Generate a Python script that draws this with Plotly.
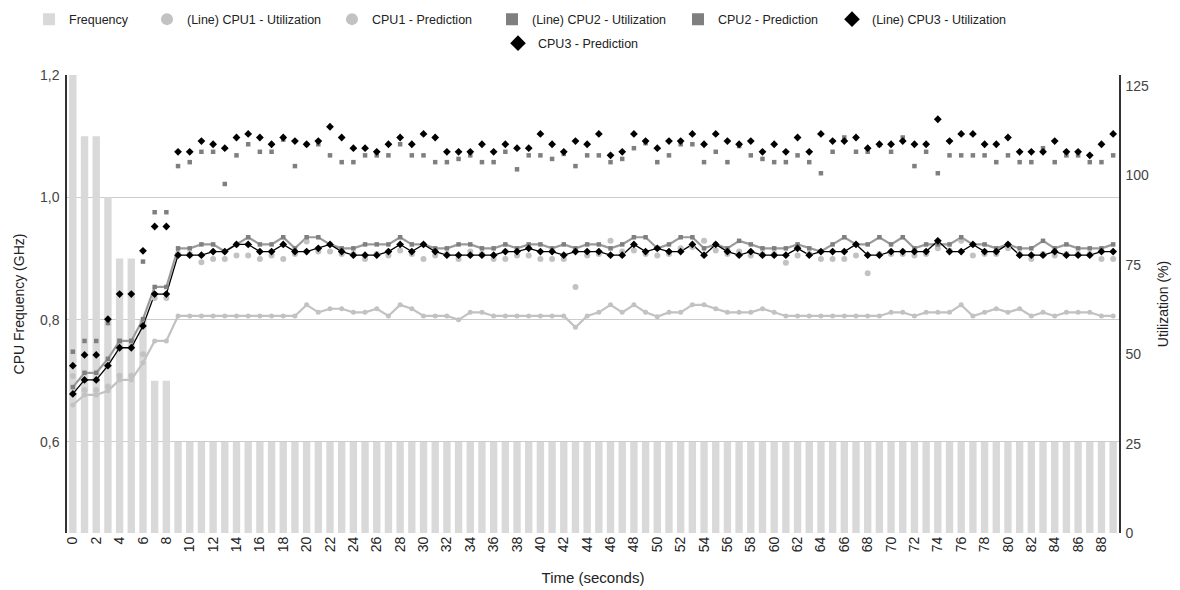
import plotly.graph_objects as go

time_s = list(range(90))
x_ticks = list(range(0, 89, 2))

freq_ghz = [1.2, 1.1, 1.1, 1.0, 0.9, 0.9, 0.8, 0.7, 0.7,
            0.6, 0.6, 0.6, 0.6, 0.6, 0.6, 0.6, 0.6, 0.6, 0.6,
            0.6, 0.6, 0.6, 0.6, 0.6, 0.6, 0.6, 0.6, 0.6, 0.6,
            0.6, 0.6, 0.6, 0.6, 0.6, 0.6, 0.6, 0.6, 0.6, 0.6,
            0.6, 0.6, 0.6, 0.6, 0.6, 0.6, 0.6, 0.6, 0.6, 0.6,
            0.6, 0.6, 0.6, 0.6, 0.6, 0.6, 0.6, 0.6, 0.6, 0.6,
            0.6, 0.6, 0.6, 0.6, 0.6, 0.6, 0.6, 0.6, 0.6, 0.6,
            0.6, 0.6, 0.6, 0.6, 0.6, 0.6, 0.6, 0.6, 0.6, 0.6,
            0.6, 0.6, 0.6, 0.6, 0.6, 0.6, 0.6, 0.6, 0.6, 0.6,
            0.6]

cpu1_util = [35.8, 38.6, 38.6, 39.8, 42.8, 42.8, 47.6, 53.7, 53.7,
             60.7, 60.7, 60.7, 60.7, 60.7, 60.7, 60.7, 60.7, 60.7, 60.7, 60.7,
             63.8, 61.7, 62.7, 62.7, 61.7, 61.7, 62.7, 60.7, 63.8, 62.7,
             60.7, 60.7, 60.7, 59.6, 61.7, 61.7, 60.7, 60.7, 60.7, 60.7,
             60.7, 60.7, 60.7, 57.5, 60.7, 61.7, 63.8, 61.7, 63.8, 61.7,
             60.5, 61.7, 61.7, 63.8, 63.8, 62.7, 61.7, 61.7, 61.7, 62.7,
             61.7, 60.7, 60.7, 60.7, 60.7, 60.7, 60.7, 60.7, 60.7, 60.7,
             61.7, 61.7, 60.7, 61.7, 61.7, 61.7, 63.8, 60.7, 61.7, 62.7,
             61.7, 62.7, 60.7, 61.7, 60.7, 61.7, 61.7, 61.7, 60.7, 60.7]

cpu1_pred = [43.9, 40.0, 40.0, 41.0, 44.0, 44.0, 50.0, 65.7, 65.7,
             78.0, 78.0, 75.7, 76.6, 76.6, 77.6, 77.6, 76.6, 77.6, 76.6, 78.0,
             81.5, 78.7, 78.7, 78.0, 78.0, 76.6, 78.0, 77.6, 79.0, 78.0,
             76.6, 77.6, 78.0, 76.6, 78.7, 78.0, 76.6, 76.6, 77.6, 77.6,
             76.6, 76.6, 76.6, 68.8, 77.6, 78.0, 81.7, 78.7, 79.0, 78.0,
             77.6, 78.0, 79.6, 80.0, 81.7, 79.0, 78.0, 78.7, 77.6, 78.0,
             78.0, 75.6, 77.6, 78.0, 76.6, 76.6, 76.6, 77.6, 72.6, 78.0,
             78.0, 78.0, 77.6, 78.0, 79.6, 79.0, 81.7, 77.6, 78.0, 78.0,
             79.6, 78.0, 76.6, 78.0, 77.6, 78.0, 78.0, 78.0, 76.6, 76.6]

cpu2_util = [40.8, 44.8, 44.8, 48.7, 53.7, 53.7, 59.8, 68.8, 68.8,
             79.6, 79.6, 80.7, 80.7, 78.7, 80.7, 82.7, 80.7, 80.7, 82.7, 79.6,
             82.7, 82.7, 80.7, 79.6, 79.6, 80.7, 80.7, 80.7, 82.7, 80.7,
             80.7, 79.6, 79.6, 80.7, 80.7, 79.6, 79.6, 80.7, 79.6, 80.7,
             80.7, 79.6, 80.7, 79.6, 80.7, 80.7, 79.6, 80.7, 82.7, 82.7,
             79.6, 80.7, 82.7, 82.7, 79.6, 80.7, 79.6, 81.7, 80.7, 79.6,
             79.6, 79.6, 80.7, 79.6, 78.7, 80.7, 82.7, 80.7, 80.7, 82.7,
             80.7, 82.7, 79.6, 80.7, 80.7, 80.7, 82.7, 80.7, 80.7, 79.6,
             80.7, 79.6, 79.6, 81.7, 79.6, 80.7, 79.6, 79.6, 79.6, 80.7]

cpu2_pred = [50.7, 53.7, 53.7, 58.7, 53.7, 53.7, 75.9, 89.7, 89.7,
             102.6, 103.7, 106.6, 106.6, 97.6, 105.6, 108.7, 106.6, 106.6, 110.0, 102.6,
             108.7, 108.7, 105.6, 103.7, 103.7, 105.6, 105.6, 105.6, 108.7, 105.6,
             105.6, 103.7, 103.7, 104.6, 105.6, 103.7, 103.7, 106.6, 101.7, 105.6,
             105.6, 104.6, 106.0, 102.6, 105.6, 105.6, 103.7, 104.6, 107.6, 109.0,
             103.7, 105.6, 108.7, 108.7, 103.7, 106.6, 103.7, 108.2, 105.6, 104.6,
             103.7, 103.7, 105.6, 103.7, 100.6, 106.6, 110.6, 106.6, 106.6, 108.5,
             106.6, 110.6, 102.6, 106.6, 100.6, 105.6, 105.6, 105.6, 105.6, 103.7,
             105.6, 103.7, 103.7, 107.6, 103.7, 105.6, 105.6, 103.7, 103.7, 105.6]

cpu3_util = [38.9, 42.8, 42.8, 46.8, 51.8, 51.8, 57.9, 66.8, 66.8,
             77.7, 77.7, 77.7, 78.7, 78.7, 80.7, 80.7, 78.7, 78.7, 80.7, 78.7,
             78.7, 79.6, 80.7, 78.7, 77.7, 77.7, 77.7, 78.7, 80.7, 78.7,
             80.7, 78.7, 77.7, 77.7, 77.7, 77.7, 77.7, 78.7, 78.7, 79.6,
             78.7, 78.7, 77.7, 78.7, 78.7, 78.7, 77.7, 77.7, 80.7, 78.7,
             79.6, 78.7, 78.7, 80.7, 77.7, 80.7, 78.7, 77.7, 78.7, 77.7,
             77.7, 77.7, 79.6, 77.7, 78.7, 78.7, 78.7, 80.7, 77.7, 77.7,
             78.7, 78.7, 78.7, 78.7, 81.7, 78.7, 78.7, 80.7, 78.7, 78.7,
             80.7, 77.7, 77.7, 77.7, 78.7, 77.7, 77.7, 77.7, 78.7, 78.7]

cpu3_pred = [46.8, 49.8, 49.8, 59.8, 66.8, 66.8, 78.9, 85.7, 85.7,
             106.6, 106.6, 109.6, 108.7, 107.6, 110.6, 111.6, 110.6, 108.7, 110.6, 109.6,
             108.7, 109.6, 113.6, 110.6, 107.6, 107.6, 106.6, 108.7, 110.6, 108.7,
             111.6, 110.6, 106.6, 106.6, 106.6, 108.7, 106.6, 108.7, 107.6, 107.6,
             111.6, 108.7, 106.6, 109.6, 108.7, 111.6, 105.6, 106.6, 111.6, 109.6,
             107.6, 109.6, 109.6, 111.6, 108.7, 111.6, 109.6, 108.7, 109.6, 106.6,
             108.7, 106.6, 110.6, 106.6, 111.6, 109.6, 109.6, 110.6, 107.6, 108.7,
             108.7, 109.6, 108.7, 108.7, 115.7, 109.6, 111.6, 111.6, 108.7, 108.7,
             110.6, 106.6, 106.6, 106.6, 109.6, 106.6, 106.6, 105.6, 108.7, 111.6]

FONT = "Arial, 'Liberation Sans', sans-serif"
C1 = "#c2c2c2"
C2 = "#7f7f7f"
C3 = "#000000"

# page offset: the html body has an 8px margin
OFF = 8
PLOT_L, PLOT_R, PLOT_T, PLOT_B = 67, 1119, 75, 533
W, H = 1180, 590
ML, MR, MT, MB = PLOT_L - OFF, W - (PLOT_R - OFF), PLOT_T - OFF, H - (PLOT_B - OFF)
PW, PH = PLOT_R - PLOT_L, PLOT_B - PLOT_T


def lx(text_start_px):
    # legend x (paper) so that the legend text starts at given page x
    return (text_start_px - 40 - PLOT_L) / PW


def ly(center_px):
    return 1 + (PLOT_T - (center_px - 14.5)) / PH


fig = go.Figure()

fig.add_trace(go.Bar(x=time_s, y=freq_ghz, name="Frequency", marker_color="#d9d9d9",
                     marker_line_width=0, yaxis="y", legend="legend"))

fig.add_trace(go.Scatter(x=time_s, y=cpu1_util, mode="lines", line=dict(color=C1, width=2.2),
                         yaxis="y2", showlegend=False))
fig.add_trace(go.Scatter(x=time_s, y=cpu2_util, mode="lines", line=dict(color="#9a9a9a", width=2.2),
                         yaxis="y2", showlegend=False))
fig.add_trace(go.Scatter(x=time_s, y=cpu3_util, mode="lines", line=dict(color=C3, width=1.3),
                         yaxis="y2", showlegend=False))

fig.add_trace(go.Scatter(x=time_s, y=cpu1_util, mode="markers", name="(Line) CPU1 - Utilization",
                         marker=dict(symbol="circle", size=5, color=C1), yaxis="y2", legend="legend2"))
fig.add_trace(go.Scatter(x=time_s, y=cpu1_pred, mode="markers", name="CPU1 - Prediction",
                         marker=dict(symbol="circle", size=6, color=C1), yaxis="y2", legend="legend3"))
fig.add_trace(go.Scatter(x=time_s, y=cpu2_util, mode="markers", name="(Line) CPU2 - Utilization",
                         marker=dict(symbol="square", size=4.5, color=C2), yaxis="y2", legend="legend4"))
fig.add_trace(go.Scatter(x=time_s, y=cpu2_pred, mode="markers", name="CPU2 - Prediction",
                         marker=dict(symbol="square", size=4.5, color=C2), yaxis="y2", legend="legend5"))
fig.add_trace(go.Scatter(x=time_s, y=cpu3_util, mode="markers", name="(Line) CPU3 - Utilization",
                         marker=dict(symbol="diamond", size=6, color=C3), yaxis="y2", legend="legend6"))
fig.add_trace(go.Scatter(x=time_s, y=cpu3_pred, mode="markers", name="CPU3 - Prediction",
                         marker=dict(symbol="diamond", size=6, color=C3), yaxis="y2", legend="legend7"))

legend_text_starts = [69, 187, 372, 532, 718, 872, 538]
legend_rows = [19, 19, 19, 19, 19, 19, 43]
legend_defs = {}
for i, (tx, cy) in enumerate(zip(legend_text_starts, legend_rows)):
    key = "legend" if i == 0 else f"legend{i + 1}"
    legend_defs[key] = dict(orientation="h", x=lx(tx), xanchor="left", y=ly(cy), yanchor="top",
                            font=dict(size=12.5, color="#222222"), itemclick=False,
                            bgcolor="rgba(0,0,0,0)", itemsizing="constant")

fig.update_layout(
    width=W, height=H,
    margin=dict(l=ML, r=MR, t=MT, b=MB, autoexpand=False),
    paper_bgcolor="white", plot_bgcolor="white",
    font=dict(family=FONT, size=13, color="#222222"),
    bargap=0.37,
    showlegend=True,
    **legend_defs,
    xaxis=dict(range=[-0.5, 89.5], tickmode="array", tickvals=x_ticks,
               ticktext=[str(v) for v in x_ticks], tickangle=-90,
               tickfont=dict(size=14, color="#222222"), showgrid=False, zeroline=False,
               showline=False, ticks="",
               title=dict(text="Time (seconds)", font=dict(size=15, color="#222222"), standoff=21)),
    yaxis=dict(range=[0.4512, 1.2], tickmode="array", tickvals=[0.6, 0.8, 1.0, 1.2],
               ticktext=["0,6", "0,8", "1,0", "1,2"], showgrid=True, gridcolor="#cccccc",
               gridwidth=1, zeroline=False, showline=True, linecolor="#333333", linewidth=1.5,
               ticks="", ticklabelstandoff=3, tickfont=dict(size=14, color="#444444"),
               title=dict(text="CPU Frequency (GHz)", font=dict(size=14, color="#222222"), standoff=12)),
    yaxis2=dict(range=[0, 128.07], overlaying="y", side="right", tickmode="array",
                tickvals=[0, 25, 50, 75, 100, 125], showgrid=False, zeroline=False,
                showline=True, linecolor="#333333", linewidth=1.5, ticks="",
                ticklabelstandoff=2, tickfont=dict(size=14, color="#444444"),
                title=dict(text="Utilization (%)", font=dict(size=14, color="#222222"), standoff=10)),
)

fig.write_html("out.html")
